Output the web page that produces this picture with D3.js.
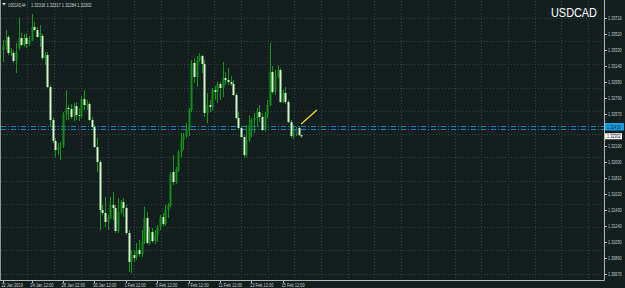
<!DOCTYPE html>
<html lang="en">
<head>
<meta charset="UTF-8">
<title>USDCAD H4</title>
<script src="https://cdnjs.cloudflare.com/ajax/libs/d3/7.8.5/d3.min.js"></script>
<style>
  html, body { margin: 0; padding: 0; background: #131f1f; }
  svg { display: block; font-family: 'Liberation Sans', Arial, sans-serif; }
</style>
</head>
<body>
<svg id="chart"></svg>
<script>
// H4 candles (oldest first)
const opens = [1.33326,1.33374,1.33481,1.33291,1.33291,1.33196,1.33350,1.33469,1.33386,1.33469,
  1.33398,1.33445,1.33599,1.33564,1.33481,1.33493,1.33231,1.33267,1.32887,1.32495,
  1.32246,1.32139,1.32174,1.32186,1.32566,1.32638,1.32626,1.32531,1.32661,1.32554,
  1.32543,1.32744,1.32673,1.32685,1.32495,1.32412,1.32174,1.31996,1.31426,1.31391,
  1.31284,1.31331,1.31486,1.31450,1.31177,1.31403,1.31521,1.31450,1.31153,1.30809,
  1.30892,1.30856,1.30951,1.30904,1.31046,1.31331,1.31034,1.31165,1.31058,1.31129,
  1.31224,1.31343,1.31260,1.31426,1.31486,1.31878,1.31759,1.31901,1.32115,1.32258,
  1.32305,1.32376,1.32614,1.33172,1.33006,1.33208,1.33255,1.33160,1.32578,1.32673,
  1.32649,1.32851,1.32828,1.32923,1.32875,1.32994,1.32970,1.32946,1.32923,1.32792,
  1.32519,1.32400,1.32293,1.32079,1.32258,1.32436,1.32495,1.32519,1.32590,1.32531,
  1.32376,1.32554,1.32673,1.33065,1.32828,1.33018,1.33089,1.32709,1.32816,1.32709,
  1.32471,1.32305,1.32376,1.32400,1.32316]
const highs = [1.33445,1.33564,1.33504,1.33350,1.33326,1.33409,1.33706,1.33528,1.33516,1.33528,
  1.33493,1.33754,1.33659,1.33599,1.33623,1.33516,1.33303,1.33303,1.32911,1.32519,
  1.32281,1.32222,1.32234,1.32590,1.32851,1.32673,1.32685,1.32697,1.32709,1.32638,
  1.32780,1.32851,1.32733,1.32709,1.32531,1.32436,1.32281,1.32020,1.31486,1.31581,
  1.31367,1.31581,1.31640,1.31486,1.31569,1.31545,1.31569,1.31486,1.31189,1.30951,
  1.30951,1.31034,1.31070,1.31189,1.31462,1.31403,1.31224,1.31213,1.31189,1.31248,
  1.31367,1.31391,1.31486,1.31509,1.31878,1.32079,1.31937,1.32139,1.32341,1.32341,
  1.32459,1.32638,1.33208,1.33231,1.33255,1.33291,1.33267,1.33208,1.32816,1.32733,
  1.32875,1.32899,1.32946,1.32946,1.33184,1.33065,1.33113,1.33018,1.32970,1.32816,
  1.32590,1.32424,1.32317,1.32436,1.32554,1.32519,1.32578,1.32638,1.32673,1.32578,
  1.32590,1.32733,1.33409,1.33136,1.33089,1.33148,1.33113,1.32851,1.32887,1.32733,
  1.32495,1.32436,1.32412,1.32424,1.32317]
const lows = [1.33184,1.33326,1.33267,1.33255,1.33172,1.33053,1.33326,1.33374,1.33362,1.33350,
  1.33374,1.33433,1.33552,1.33469,1.33362,1.33208,1.33148,1.32875,1.32412,1.32222,
  1.32056,1.32079,1.32020,1.32163,1.32495,1.32495,1.32507,1.32483,1.32495,1.32483,
  1.32519,1.32614,1.32614,1.32483,1.32400,1.32163,1.31878,1.31189,1.31367,1.31224,
  1.31189,1.31319,1.31308,1.31153,1.31153,1.31379,1.31343,1.31129,1.30690,1.30678,
  1.30809,1.30833,1.30868,1.30868,1.31023,1.31023,1.31011,1.31034,1.31023,1.31046,
  1.31189,1.31236,1.31236,1.31331,1.31462,1.31723,1.31735,1.31878,1.32044,1.32139,
  1.32281,1.32305,1.32590,1.32934,1.32887,1.33184,1.33053,1.32531,1.32459,1.32590,
  1.32602,1.32733,1.32697,1.32733,1.32768,1.32911,1.32911,1.32899,1.32780,1.32507,
  1.32376,1.32281,1.32044,1.32056,1.32234,1.32293,1.32341,1.32412,1.32471,1.32364,
  1.32353,1.32519,1.32661,1.32804,1.32792,1.32994,1.32697,1.32697,1.32685,1.32459,
  1.32281,1.32269,1.32305,1.32305,1.32284]
const closes = [1.33374,1.33445,1.33291,1.33314,1.33196,1.33303,1.33469,1.33386,1.33469,1.33398,
  1.33445,1.33599,1.33564,1.33481,1.33528,1.33231,1.33267,1.32887,1.32495,1.32246,
  1.32139,1.32174,1.32186,1.32566,1.32638,1.32626,1.32531,1.32661,1.32554,1.32543,
  1.32744,1.32673,1.32685,1.32495,1.32412,1.32174,1.31996,1.31426,1.31391,1.31284,
  1.31331,1.31486,1.31450,1.31177,1.31403,1.31521,1.31450,1.31153,1.30809,1.30892,
  1.30856,1.30951,1.30904,1.31046,1.31331,1.31034,1.31165,1.31058,1.31129,1.31224,
  1.31343,1.31260,1.31426,1.31486,1.31854,1.31759,1.31901,1.32115,1.32258,1.32305,
  1.32376,1.32614,1.33172,1.33006,1.33208,1.33255,1.33160,1.32578,1.32673,1.32649,
  1.32851,1.32828,1.32923,1.32875,1.32994,1.32970,1.32946,1.32923,1.32792,1.32519,
  1.32400,1.32293,1.32079,1.32258,1.32436,1.32495,1.32519,1.32590,1.32531,1.32376,
  1.32554,1.32673,1.33065,1.32828,1.33018,1.33089,1.32709,1.32816,1.32709,1.32471,
  1.32305,1.32376,1.32341,1.32317,1.32302]

const timeLabels = ['22 Jan 2019','24 Jan 12:00','28 Jan 12:00','30 Jan 12:00','1 Feb 12:00',
  '5 Feb 12:00','7 Feb 12:00','11 Feb 12:00','13 Feb 12:00','15 Feb 12:00']
const timeLabelBars = [0, 11, 23, 35, 47, 59, 71, 83, 95, 107]

// 1.32380 sits under the level label in the picture, so it is not listed
const priceTicks = [1.30670,1.30860,1.31050,1.31240,1.31430,1.31620,1.31810,1.32000,1.32190,
  1.32570,1.32760,1.32950,1.33140,1.33330,1.33520,1.33710]

const levelLines = [1.32418, 1.32385]
const levelLabel = '1.32418'
const bidLabel = '1.32302'
const markedBar = 112           // candle drawn in blue
const trendBars = [114, 120]
const trendPrices = [1.32448, 1.32614]

let width = 625
let height = 288
let plotRight = 604
let plotBottom = 280
let charW = 1.95                // the terminal's small font is very narrow

let svg = d3.select('#chart').attr('width', width).attr('height', height)

let xScale = d3.scaleLinear().domain([0, 114]).range([2.9, 301.2])
let yScale = d3.scaleLinear().domain([1.30670, 1.33710]).range([273.7, 17.7])

// small terminal text: squeeze it horizontally so it keeps the narrow look
let smallText = (sel, str, x, y) => {
    sel.attr('font-size', '5.4px').text(str)
    let w = sel.node().getComputedTextLength()
    let sx = w > 0 ? (str.length * charW) / w : 1
    sel.attr('transform', 'translate(' + x + ',' + y + ') scale(' + sx + ',1)')
    return sel
}

svg.append('rect').attr('width', width).attr('height', height).attr('fill', '#131f1f')

// dotted grid
let gridY = d3.range(12).map(k => yScale.range()[1] + k * (yScale.range()[0] - yScale.range()[1]) / 11)
svg.append('g').selectAll('line').data(gridY).enter().append('line')
    .attr('x1', 1).attr('x2', plotRight)
    .attr('y1', d => Math.round(d) + 0.5).attr('y2', d => Math.round(d) + 0.5)
    .attr('stroke', '#34403f').attr('stroke-dasharray', '1,2')

let gridX = d3.range(23).map(k => xScale(9.4 + k * 10.2)).filter(x => x < plotRight)
svg.append('g').selectAll('line').data(gridX).enter().append('line')
    .attr('x1', d => Math.round(d) + 0.5).attr('x2', d => Math.round(d) + 0.5)
    .attr('y1', 1).attr('y2', plotBottom)
    .attr('stroke', '#34403f').attr('stroke-dasharray', '1,2')

// level lines (dash-dot)
svg.append('g').selectAll('line').data(levelLines).enter().append('line')
    .attr('x1', 1).attr('x2', plotRight)
    .attr('y1', d => Math.floor(yScale(d)) + 0.5).attr('y2', d => Math.floor(yScale(d)) + 0.5)
    .attr('stroke', '#1a7fba').attr('stroke-width', 1).attr('stroke-dasharray', '5,2,1,2')

// candles
let bars = opens.map((o, i) => ({i: i, o: o, h: highs[i], l: lows[i], c: closes[i]}))

let candles = svg.append('g').selectAll('g').data(bars).enter().append('g')

candles.append('line')
    .attr('x1', d => Math.round(xScale(d.i)) + 0.5)
    .attr('x2', d => Math.round(xScale(d.i)) + 0.5)
    .attr('y1', d => yScale(d.h))
    .attr('y2', d => yScale(d.l))
    .attr('stroke', '#17951a')

candles.append('rect')
    .attr('x', d => Math.round(xScale(d.i)) - 0.5)
    .attr('width', 2)
    .attr('y', d => yScale(Math.max(d.o, d.c)))
    .attr('height', d => Math.max(1, Math.abs(yScale(d.o) - yScale(d.c))))
    .attr('fill', d => {
        if (d.i === markedBar) return '#2a34b0'
        return d.c > d.o ? '#138f16' : '#d2f7c8'
    })

// trend line
svg.append('line')
    .attr('x1', xScale(trendBars[0])).attr('y1', yScale(trendPrices[0]))
    .attr('x2', xScale(trendBars[1])).attr('y2', yScale(trendPrices[1]))
    .attr('stroke', '#f2e21a').attr('stroke-width', 1.2)

// frame
svg.append('line').attr('x1', 0.5).attr('x2', 0.5).attr('y1', 0).attr('y2', plotBottom + 0.5)
    .attr('stroke', '#8c9494')
svg.append('line').attr('x1', plotRight + 0.5).attr('x2', plotRight + 0.5).attr('y1', 0).attr('y2', plotBottom + 0.5)
    .attr('stroke', '#b4b8b8')
svg.append('line').attr('x1', 0).attr('x2', plotRight + 0.5).attr('y1', plotBottom + 0.5).attr('y2', plotBottom + 0.5)
    .attr('stroke', '#b4b8b8')

// price axis
let yAxis = svg.append('g')
yAxis.selectAll('line').data(priceTicks).enter().append('line')
    .attr('x1', plotRight).attr('x2', plotRight + 3)
    .attr('y1', d => Math.round(yScale(d)) + 0.5).attr('y2', d => Math.round(yScale(d)) + 0.5)
    .attr('stroke', '#b4b8b8')
yAxis.selectAll('text').data(priceTicks).enter().append('text')
    .attr('fill', '#c8cccc')
    .each(function (d) { smallText(d3.select(this), d.toFixed(5), plotRight + 4, yScale(d) + 2) })

// level label and bid label
let lvlY = yScale(levelLines[0])
svg.append('rect').attr('x', plotRight + 1).attr('y', lvlY - 3.5).attr('width', 19).attr('height', 7.5)
    .attr('fill', '#1c9be0')
smallText(svg.append('text').attr('fill', '#0b2a40'), levelLabel, plotRight + 3, lvlY + 2.2)

let bidY = yScale(closes[closes.length - 1])
svg.append('rect').attr('x', plotRight + 1).attr('y', bidY - 3).attr('width', 17).attr('height', 6)
    .attr('fill', '#ffffff')
smallText(svg.append('text').attr('fill', '#000000'), bidLabel, plotRight + 3, bidY + 2)

// time axis
let xAxis = svg.append('g')
xAxis.selectAll('line').data(timeLabelBars).enter().append('line')
    .attr('x1', d => Math.round(xScale(d)) + 0.5).attr('x2', d => Math.round(xScale(d)) + 0.5)
    .attr('y1', plotBottom).attr('y2', plotBottom + 3)
    .attr('stroke', '#b4b8b8')
xAxis.selectAll('text').data(timeLabelBars).enter().append('text')
    .attr('fill', '#c8cccc')
    .each(function (d, i) { smallText(d3.select(this), timeLabels[i], xScale(d) - 1.5, plotBottom + 6.5) })

// header
svg.append('path').attr('d', 'M2,3 L6,3 L4,5.5 Z').attr('fill', '#e0e0e0')
smallText(svg.append('text').attr('fill', '#d0d4d4'), 'USDCAD,H4', 8, 6.5)
let last = bars[bars.length - 1]
smallText(svg.append('text').attr('fill', '#d0d4d4'),
    [last.o, last.h, last.l, last.c].map(v => v.toFixed(5)).join(' '), 31, 6.5)

svg.append('text').attr('x', 597).attr('y', 17).attr('text-anchor', 'end')
    .attr('font-size', '13px').attr('textLength', 46).attr('lengthAdjust', 'spacingAndGlyphs')
    .attr('fill', '#ffffff').text('USDCAD')
</script>
</body>
</html>
